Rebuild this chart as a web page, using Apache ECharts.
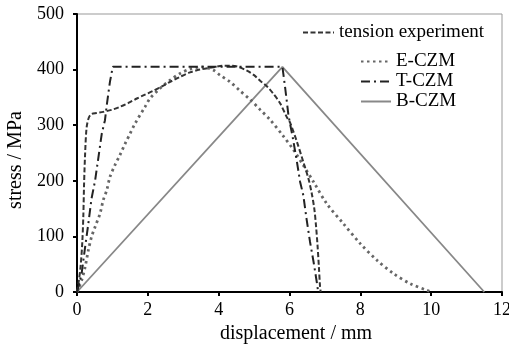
<!DOCTYPE html>
<html>
<head>
<meta charset="utf-8">
<script src="https://cdn.jsdelivr.net/npm/echarts@6/dist/echarts.min.js"></script>
<style>html,body{margin:0;padding:0;background:#fff;}#c{width:509px;height:349px;}</style>
</head>
<body>
<div id="c"></div>
<script>
// ---- data ----
const seriesNames = ['tension experiment', 'E-CZM', 'T-CZM', 'B-CZM'];
const xTicks = [0, 2, 4, 6, 8, 10, 12];
const yTicks = [0, 100, 200, 300, 400, 500];

const tensionX = [0, 0.04, 0.10, 0.15, 0.18, 0.20, 0.23, 0.27, 0.33, 0.41, 0.55, 0.74, 1.0, 1.21, 1.45, 1.69, 1.92, 2.16, 2.4, 2.63, 2.91, 3.19, 3.47, 3.84, 4.1, 4.32, 4.55, 4.8, 5.0, 5.17, 5.36, 5.55, 5.73, 5.92, 6.02, 6.21, 6.39, 6.53, 6.62, 6.70, 6.75, 6.79, 6.83, 6.86, 6.88];
const tensionY = [0, 15, 45, 90, 140, 195, 250, 295, 313, 320, 322, 324, 328, 333, 340, 348, 355, 362, 370, 378, 387, 395, 400, 404, 407, 407, 405, 398, 390, 380, 370, 356, 340, 315, 304, 270, 234, 205, 180, 150, 118, 85, 45, 12, 0];

const eX = [0, 0.13, 0.23, 0.32, 0.41, 0.51, 0.65, 0.74, 0.84, 0.93, 1.07, 1.21, 1.36, 1.5, 1.64, 1.92, 2.06, 2.34, 2.63, 2.91, 3.19, 3.5, 3.85, 4.04, 4.32, 4.6, 4.89, 5.17, 5.45, 5.83, 6.11, 6.39, 6.68, 7.05, 7.52, 8.0, 8.47, 8.94, 9.41, 9.88, 10.0];
const eY = [0, 21, 45, 75, 99, 117, 141, 165, 183, 207, 228, 246, 267, 285, 303, 333, 348, 366, 381, 393, 401, 405, 399, 390, 378, 362, 346, 328, 310, 280, 256, 228, 198, 159, 123, 87, 57, 33, 15, 3, 0];

const tX = [0, 0.04, 0.13, 0.23, 0.32, 0.41, 0.51, 0.60, 0.70, 0.79, 0.84, 0.93, 1.01, 5.8, 5.88, 5.97, 6.1, 6.21, 6.3, 6.39, 6.48, 6.58, 6.68, 6.77, 6.81];
const tY = [0, 9, 33, 81, 123, 168, 200, 240, 285, 309, 336, 378, 405, 405, 366, 318, 275, 234, 198, 174, 132, 90, 54, 18, 0];

const bX = [0, 5.8, 11.5];
const bY = [0, 405, 0];

function zip(xs, ys) { return xs.map((x, i) => [x, ys[i]]); }

const font = 'Liberation Serif';
const chart = echarts.init(document.getElementById('c'));
chart.setOption({
  animation: false,
  backgroundColor: '#fff',
  textStyle: { fontFamily: font, color: '#000' },
  grid: { left: 77, right: 7, top: 14, bottom: 57, show: true, borderColor: '#999', borderWidth: 1, outerBoundsMode: 'none', containLabel: false },
  legend: [
    {
      data: [seriesNames[0]], left: 297, top: 18, itemWidth: 31, itemHeight: 10, itemGap: 12,
      itemStyle: { opacity: 0 },
      textStyle: { fontFamily: font, fontSize: 19, color: '#000' }
    },
    {
      data: seriesNames.slice(1), orient: 'vertical', left: 355, top: 47, itemWidth: 30, itemHeight: 10, itemGap: 1,
      itemStyle: { opacity: 0 },
      textStyle: { fontFamily: font, fontSize: 19, color: '#000', lineHeight: 19 }
    }
  ],
  xAxis: {
    type: 'value', min: xTicks[0], max: xTicks[xTicks.length - 1], interval: 2,
    name: 'displacement / mm', nameLocation: 'middle', nameGap: 28,
    nameTextStyle: { fontFamily: font, fontSize: 20, color: '#000', padding: [0, 0, 0, 13] },
    axisLine: { lineStyle: { color: '#000', width: 2 } },
    axisTick: { show: true, length: 4, lineStyle: { color: '#000', width: 2 } },
    axisLabel: { margin: 9, fontFamily: font, fontSize: 18, color: '#000' },
    splitLine: { show: false }
  },
  yAxis: {
    type: 'value', min: yTicks[0], max: yTicks[yTicks.length - 1], interval: 100,
    name: 'stress / MPa', nameLocation: 'middle', nameGap: 51, nameRotate: 90,
    nameTextStyle: { fontFamily: font, fontSize: 20, color: '#000', padding: [0, 14, 0, 0] },
    axisLine: { show: true, lineStyle: { color: '#000', width: 2 } },
    axisTick: { show: true, length: 4, lineStyle: { color: '#000', width: 2 } },
    axisLabel: { margin: 13, fontFamily: font, fontSize: 18, color: '#000' },
    splitLine: { show: false }
  },
  series: [
    { name: seriesNames[0], type: 'line', data: zip(tensionX, tensionY), symbol: 'none', smooth: 0.3,
      lineStyle: { color: '#333', width: 2, type: [5, 2.5] }, itemStyle: { color: '#333' }, z: 4 },
    { name: seriesNames[1], type: 'line', data: zip(eX, eY), symbol: 'none', smooth: 0.3,
      lineStyle: { color: '#666', width: 2.8, type: [2.5, 3.5] }, itemStyle: { color: '#666' }, z: 3 },
    { name: seriesNames[2], type: 'line', data: zip(tX, tY), symbol: 'none',
      lineStyle: { color: '#222', width: 2, type: [9, 4, 2, 4] }, itemStyle: { color: '#222' }, z: 5 },
    { name: seriesNames[3], type: 'line', data: zip(bX, bY), symbol: 'none',
      lineStyle: { color: '#888', width: 1.8, type: 'solid' }, itemStyle: { color: '#888' }, z: 2 }
  ]
});
</script>
</body>
</html>
